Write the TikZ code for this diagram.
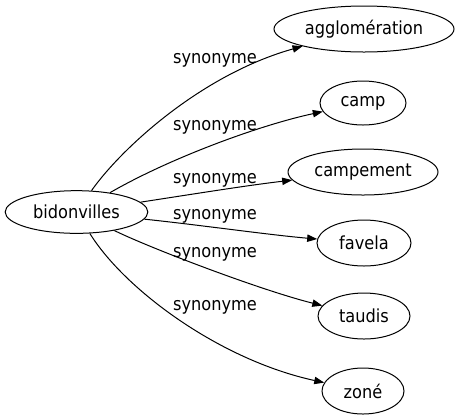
\documentclass[tikz,border=0pt]{standalone}
\usepackage{fontspec}
\setmainfont[FakeStretch=0.9]{DejaVu Sans}
\usetikzlibrary{shapes.geometric,arrows.meta}
\tikzset{
  nd/.style={ellipse, draw, line width=0.75pt, inner sep=0pt, minimum height=34.5pt, font=\fontsize{13.5pt}{16pt}\selectfont},
  edge/.style={draw, line width=0.75pt, -{Triangle[length=7.5pt,width=5.5pt]}},
  lab/.style={anchor=base, inner sep=0pt, font=\fontsize{13.5pt}{16pt}\selectfont}
}
\begin{document}
\begin{tikzpicture}[x=0.75pt,y=-0.75pt]
\useasboundingbox (0,0) rectangle (459,419);
\node[nd, minimum width=107pt, minimum height=32pt] (b) at (76.5,212) {bidonvilles};
\node[nd, minimum width=135pt] (agg) at (364,29) {agglomération};
\node[nd, minimum width=64.5pt, minimum height=33pt] (camp) at (363,103) {camp};
\node[nd, minimum width=112.5pt] (cmp) at (363,172) {campement};
\node[nd, minimum width=70.5pt] (fav) at (364,243) {favela};
\node[nd, minimum width=69pt] (tau) at (364,316) {taudis};
\node[nd, minimum width=61.5pt] (zon) at (363,391) {zoné};

\draw[edge] (b) .. controls (120,150) and (200,75) .. (agg);
\draw[edge] (b) .. controls (170,158) and (260,125) .. (camp);
\draw[edge] (b) .. controls (200,193) and (250,185) .. (cmp);
\draw[edge] (b) .. controls (200,225) and (270,235) .. (fav);
\draw[edge] (b) .. controls (150,248) and (260,290) .. (tau);
\draw[edge] (b) .. controls (125,290) and (220,360) .. (zon);

\node[lab] (l1) at (215,63) {synonyme};
\node[lab] (l2) at (215,130) {synonyme};
\node[lab] (l3) at (215,183) {synonyme};
\node[lab] (l4) at (215,219) {synonyme};
\node[lab] (l5) at (215,257) {synonyme};
\node[lab] (l6) at (215,310) {synonyme};
\end{tikzpicture}
\end{document}
